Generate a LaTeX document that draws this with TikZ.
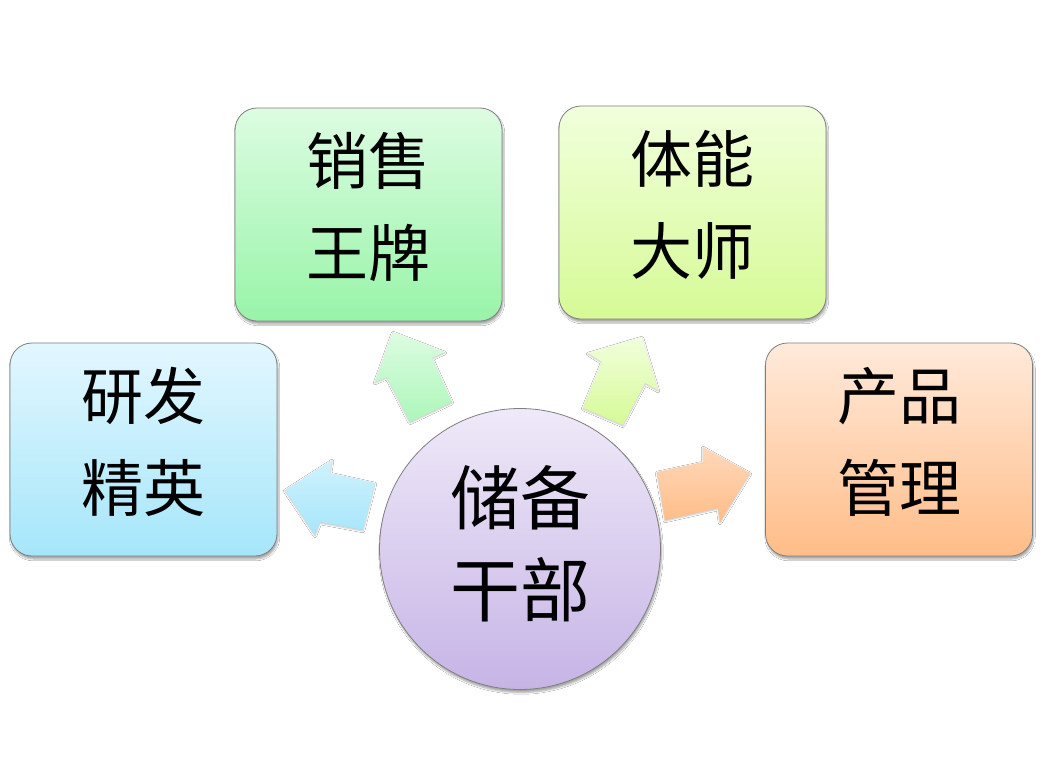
\documentclass[tikz,border=0pt]{standalone}
\usepackage{fontspec}
\newfontfamily\cjk{Noto Sans CJK SC}
\usetikzlibrary{shadows.blur}
\definecolor{bluetop}{HTML}{E2F7FF}
\definecolor{bluebot}{HTML}{A6E6FA}
\definecolor{greentop}{HTML}{DDFCE2}
\definecolor{greenbot}{HTML}{98F4A8}
\definecolor{limetop}{HTML}{F1FFDC}
\definecolor{limebot}{HTML}{D6FA96}
\definecolor{orangetop}{HTML}{FFEADB}
\definecolor{orangebot}{HTML}{FFBD88}
\definecolor{purpletop}{HTML}{EFE9F8}
\definecolor{purplebot}{HTML}{C6B4E6}
\definecolor{edgegray}{HTML}{7F7F7F}
\tikzset{
  card/.style={draw=edgegray, line width=0.8pt, rounded corners=22pt,
    minimum width=267pt, minimum height=213pt,
    blur shadow={shadow xshift=1pt, shadow yshift=-3pt, shadow blur steps=6, shadow opacity=35}},
  cardtext/.style={align=center, font=\cjk\fontsize{62}{92}\selectfont, text=black},
  hub/.style={circle, draw=edgegray, line width=0.8pt, minimum size=281pt,
    blur shadow={shadow xshift=1pt, shadow yshift=-3pt, shadow blur steps=6, shadow opacity=35}},
  hubtext/.style={align=center, font=\cjk\fontsize{70}{92}\selectfont, text=black},
  blockarrow/.style={blur shadow={shadow xshift=0pt, shadow yshift=-1pt, shadow blur steps=4, shadow opacity=25}}
}
\begin{document}
\begin{tikzpicture}[x=1pt,y=-1pt]
\useasboundingbox (0,0) rectangle (1040,768);
\fill[white] (0,0) rectangle (1040,768);
% arrows
\shade[blockarrow, top color=bluetop!70!bluebot, bottom color=bluebot]
  (285,490) -- (332,460) -- (330,473) -- (375,483) -- (363,530) -- (320,522) -- (315,535) -- cycle;
\shade[blockarrow, top color=greentop, bottom color=greenbot!80!white]
  (393,332) -- (445,352) -- (432,358) -- (452,402) -- (410,422) -- (387,377) -- (375,382) -- cycle;
\shade[blockarrow, top color=limetop, bottom color=limebot]
  (642,337) -- (658,390) -- (645,383) -- (623,425) -- (583,408) -- (602,362) -- (588,353) -- cycle;
\shade[blockarrow, top color=orangetop!60!orangebot, bottom color=orangebot]
  (750,473) -- (720,522) -- (718,508) -- (665,520) -- (657,472) -- (703,462) -- (703,447) -- cycle;
% cards
\node[card, top color=bluetop, bottom color=bluebot] (rd) at (143.5,449.5) {};
\node[cardtext] (rdt) at ([yshift=8pt]rd.center) {研发\\精英};
\node[card, top color=greentop, bottom color=greenbot] (sales) at (368.5,214.5) {};
\node[cardtext] (salest) at ([yshift=8pt]sales.center) {销售\\王牌};
\node[card, top color=limetop, bottom color=limebot] (fit) at (692.5,212.5) {};
\node[cardtext] (fitt) at ([yshift=8pt]fit.center) {体能\\大师};
\node[card, top color=orangetop, bottom color=orangebot] (prod) at (899,449.5) {};
\node[cardtext] (prodt) at ([yshift=8pt]prod.center) {产品\\管理};
\node[hub, top color=purpletop, bottom color=purplebot] (hubc) at (520,549) {};
\node[hubtext] (hubt) at ([yshift=5pt]hubc.center) {储备\\干部};
\end{tikzpicture}
\end{document}
